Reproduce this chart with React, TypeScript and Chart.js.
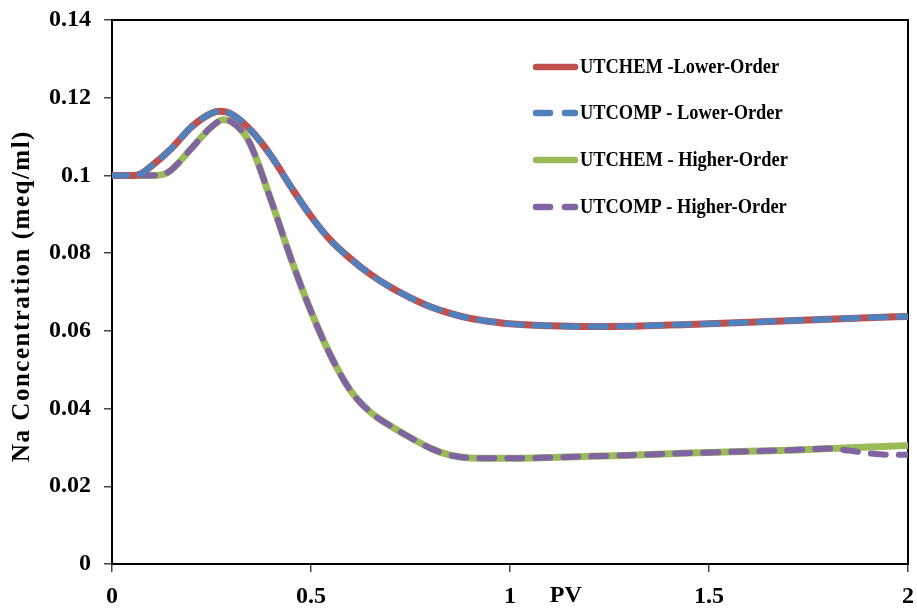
import React, { useEffect, useRef } from "react";
import { Chart, registerables } from "chart.js";

Chart.register(...registerables);

// ---- data ----
const pvLower = [0, 0.05, 0.07, 0.1, 0.15, 0.2, 0.25, 0.27, 0.3, 0.35, 0.4, 0.45, 0.5, 0.55, 0.6, 0.65, 0.7, 0.75, 0.8, 0.85, 0.9, 0.95, 1.0, 1.1, 1.2, 1.3, 1.4, 1.5, 1.6, 1.7, 1.8, 1.9, 2.0];
const utchemLower = [0.1, 0.1, 0.1003, 0.1025, 0.107, 0.1125, 0.116, 0.1165, 0.1158, 0.1115, 0.105, 0.097, 0.0895, 0.0832, 0.0785, 0.0745, 0.0712, 0.0685, 0.0662, 0.0645, 0.0632, 0.0624, 0.0618, 0.0613, 0.0611, 0.0612, 0.0615, 0.0618, 0.0622, 0.0626, 0.063, 0.0634, 0.0637];
const utcompLower = [0.1, 0.1, 0.1003, 0.1025, 0.107, 0.1125, 0.116, 0.1165, 0.1158, 0.1115, 0.105, 0.097, 0.0895, 0.0832, 0.0785, 0.0745, 0.0712, 0.0685, 0.0662, 0.0645, 0.0632, 0.0624, 0.0618, 0.0613, 0.0611, 0.0612, 0.0615, 0.0618, 0.0622, 0.0626, 0.063, 0.0634, 0.0637];

const pvHigher = [0, 0.05, 0.1, 0.13, 0.15, 0.2, 0.25, 0.28, 0.3, 0.33, 0.35, 0.4, 0.45, 0.5, 0.55, 0.6, 0.65, 0.7, 0.75, 0.8, 0.85, 0.9, 1.0, 1.1, 1.2, 1.3, 1.4, 1.5, 1.6, 1.7, 1.8, 1.85, 1.9, 1.95, 2.0];
const utchemHigher = [0.1, 0.1, 0.1, 0.1003, 0.1015, 0.107, 0.1125, 0.1143, 0.1138, 0.111, 0.1075, 0.0935, 0.0785, 0.065, 0.0535, 0.0445, 0.039, 0.0355, 0.0325, 0.0298, 0.028, 0.0273, 0.0272, 0.0274, 0.0277, 0.028, 0.0284, 0.0287, 0.029, 0.0293, 0.0297, 0.0299, 0.0301, 0.0303, 0.0305];
const utcompHigher = [0.1, 0.1, 0.1, 0.1003, 0.1015, 0.107, 0.1125, 0.1143, 0.1138, 0.111, 0.1075, 0.0935, 0.0785, 0.065, 0.0535, 0.0445, 0.039, 0.0355, 0.0325, 0.0298, 0.028, 0.0273, 0.0272, 0.0274, 0.0277, 0.028, 0.0284, 0.0287, 0.029, 0.0293, 0.0297, 0.0292, 0.0285, 0.0281, 0.0281];

const seriesNames = ["UTCHEM -Lower-Order", "UTCOMP - Lower-Order", "UTCHEM - Higher-Order", "UTCOMP - Higher-Order"];
const seriesColors = ["#C0504D", "#4F81BD", "#9BBB59", "#8064A2"];
const seriesDashed = [false, true, false, true];

const xTicks = [0, 0.5, 1, 1.5, 2];
const yTicks = [0, 0.02, 0.04, 0.06, 0.08, 0.1, 0.12, 0.14];
const xTitle = "PV";
const yTitle = "Na Concentration (meq/ml)";

const FONT = "'Liberation Serif', 'Times New Roman', serif";

function pts(xs: number[], ys: number[]) {
  return xs.map((x, i) => ({ x, y: ys[i] }));
}

const decorPlugin = {
  id: "decor",
  beforeDatasetsDraw(chart: any) {
    const { ctx, chartArea: a } = chart;
    ctx.save();
    ctx.strokeStyle = "#000";
    ctx.lineWidth = 2;
    ctx.strokeRect(a.left, a.top, a.right - a.left, a.bottom - a.top);
    ctx.restore();
  },
  afterDraw(chart: any) {
    const { ctx } = chart;
    const xs = chart.scales.x;
    ctx.save();
    // PV inline label
    ctx.fillStyle = "#000";
    ctx.font = `bold 24px ${FONT}`;
    ctx.textAlign = "center";
    ctx.textBaseline = "middle";
    ctx.fillText(xTitle, xs.getPixelForValue(1.14), 596);
    // Y title
    ctx.save();
    ctx.translate(23, 296);
    ctx.rotate(-Math.PI / 2);
    ctx.font = `bold 25px ${FONT}`;
    (ctx as any).letterSpacing = "1.5px";
    ctx.textAlign = "center";
    ctx.textBaseline = "middle";
    ctx.fillText(yTitle, 0, 0);
    ctx.restore();
    // legend
    const rows = [67, 113, 160, 207];
    const lx0 = 533, lx1 = 578;
    seriesNames.forEach((name, i) => {
      const y = rows[i];
      ctx.strokeStyle = seriesColors[i];
      ctx.lineCap = "round";
      ctx.lineWidth = 6.5;
      ctx.beginPath();
      if (seriesDashed[i]) {
        ctx.moveTo(lx0 + 3, y);
        ctx.lineTo(lx0 + 17, y);
        ctx.moveTo(lx0 + 32, y);
        ctx.lineTo(lx1 - 3, y);
      } else {
        ctx.moveTo(lx0 + 3, y);
        ctx.lineTo(lx1 - 3, y);
      }
      ctx.stroke();
      ctx.save();
      ctx.translate(580, y);
      ctx.scale(0.92, 1);
      ctx.font = `bold 20px ${FONT}`;
      ctx.fillStyle = "#000";
      ctx.textAlign = "left";
      ctx.textBaseline = "middle";
      ctx.fillText(name, 0, 1);
      ctx.restore();
    });
    ctx.restore();
  },
};

export default function App() {
  const ref = useRef<HTMLCanvasElement | null>(null);
  useEffect(() => {
    if (!ref.current) return;
    const mk = (i: number, data: any[], width: number, order: number) => ({
      label: seriesNames[i],
      data,
      borderColor: seriesColors[i],
      backgroundColor: seriesColors[i],
      borderWidth: width,
      borderDash: seriesDashed[i] ? [15, 13] : [],
      borderCapStyle: seriesDashed[i] ? "round" : "butt",
      borderJoinStyle: "round",
      pointRadius: 0,
      fill: false,
      cubicInterpolationMode: "monotone",
      order,
    });
    const chart = new Chart(ref.current, {
      type: "line",
      data: {
        datasets: [
          mk(0, pts(pvLower, utchemLower), 7, 2),
          mk(1, pts(pvLower, utcompLower), 6, 1),
          mk(2, pts(pvHigher, utchemHigher), 7, 4),
          mk(3, pts(pvHigher, utcompHigher), 6, 3),
        ] as any,
      },
      options: {
        animation: false,
        responsive: false,
        maintainAspectRatio: false,
        layout: { padding: { left: 0, right: 9, top: 20, bottom: 0 } },
        plugins: { legend: { display: false }, tooltip: { enabled: false }, title: { display: false } },
        scales: {
          x: {
            type: "linear",
            min: 0,
            max: 2,
            afterFit: (s: any) => { s.height = 47; s.paddingLeft = 0; s.paddingRight = 0; },
            afterBuildTicks: (s: any) => { s.ticks = xTicks.map((v) => ({ value: v })); },
            ticks: {
              color: "#000",
              font: { family: FONT, size: 24, weight: "bold" },
              padding: 10,
              maxRotation: 0,
              callback: (v: any) => String(Number(Number(v).toFixed(2))),
            },
            grid: { display: true, drawOnChartArea: false, drawTicks: true, tickLength: 8, color: "#444", lineWidth: 1.5 },
            border: { display: true, color: "#000", width: 2 },
          },
          y: {
            type: "linear",
            min: 0,
            max: 0.14,
            afterFit: (s: any) => { s.width = 112; s.paddingTop = 0; s.paddingBottom = 0; },
            afterBuildTicks: (s: any) => { s.ticks = yTicks.map((v) => ({ value: v })); },
            ticks: {
              color: "#000",
              font: { family: FONT, size: 24, weight: "bold" },
              padding: 13,
              callback: (v: any) => String(Number(Number(v).toFixed(2))),
            },
            grid: { display: true, drawOnChartArea: false, drawTicks: true, tickLength: 8, color: "#444", lineWidth: 1.5 },
            border: { display: true, color: "#000", width: 2 },
          },
        },
      } as any,
      plugins: [decorPlugin],
    });
    return () => chart.destroy();
  }, []);
  return (
    <div style={{ position: "fixed", left: 0, top: 0, width: 917, height: 611, background: "#fff" }}>
      <canvas ref={ref} width={917} height={611} style={{ display: "block", width: 917, height: 611 }} />
    </div>
  );
}
